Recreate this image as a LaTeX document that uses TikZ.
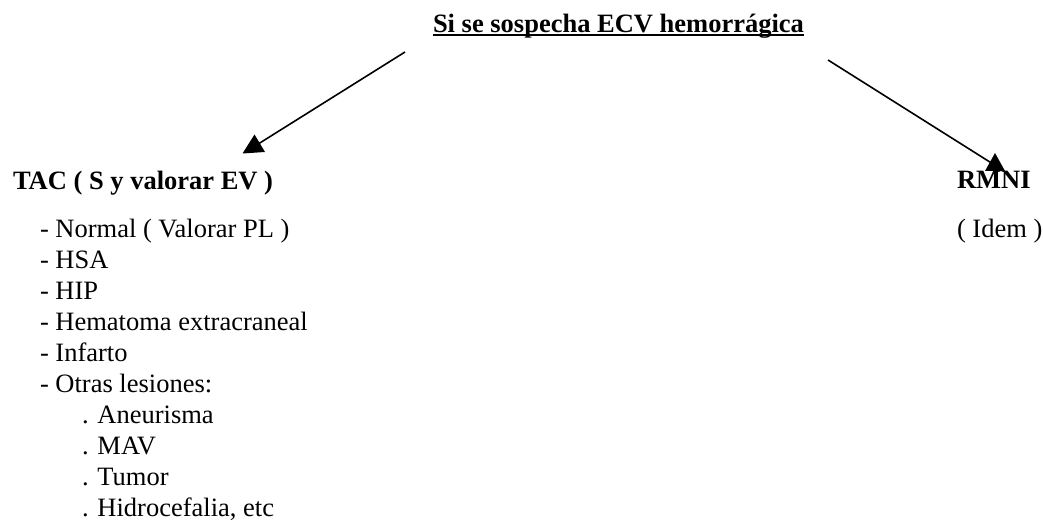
\documentclass[tikz,border=0pt]{standalone}
\usepackage{fontspec}
\setmainfont{Liberation Serif}
\begin{document}
\begin{tikzpicture}[x=1pt,y=-1pt,
  txt/.style={anchor=base west,inner sep=0pt,outer sep=0pt,font=\fontsize{26.5}{31}\selectfont},
  btxt/.style={txt,font=\fontsize{26.5}{31}\selectfont\bfseries},
  conn/.style={line width=1.6pt},
  head/.style={fill=black}]
\useasboundingbox (0,0) rectangle (1043,521);
\node[btxt] (title) at (433,33) {Si se sospecha ECV hemorrágica};
\draw[line width=2pt] ([yshift=-2.5pt]title.base west) -- ([yshift=-2.5pt]title.base east);
\node[btxt] (tac) at (13,190) {TAC ( S y valorar EV )};
\node[btxt] (rmni) at (957,189) {RMNI};
\node[txt] (idem) at (957,238) {( Idem )};
\node[txt] (l1) at (40,237.5) {- Normal ( Valorar PL )};
\node[txt] (l2) at (40,268.5) {- HSA};
\node[txt] (l3) at (40,299.5) {- HIP};
\node[txt] (l4) at (40,330.5) {- Hematoma extracraneal};
\node[txt] (l5) at (40,361.5) {- Infarto};
\node[txt] (l6) at (40,392.5) {- Otras lesiones:};
\node[txt] (l7) at (82,423.5) {. Aneurisma};
\node[txt] (l8) at (82,454.5) {. MAV};
\node[txt] (l9) at (82,485.5) {. Tumor};
\node[txt] (l10) at (82,516.5) {. Hidrocefalia, etc};
\coordinate (la) at (405,52);
\coordinate (lb) at (255,146);
\coordinate (ra) at (828,60);
\coordinate (rb) at (993,164);
\draw[conn] (la) -- (lb);
\draw[conn] (ra) -- (rb);
\fill[head] (254.5,134.5) -- (242.5,153.5) -- (265,152) -- cycle;
\fill[head] (995,153) -- (985,171) -- (1005,171) -- cycle;
\end{tikzpicture}
\end{document}
